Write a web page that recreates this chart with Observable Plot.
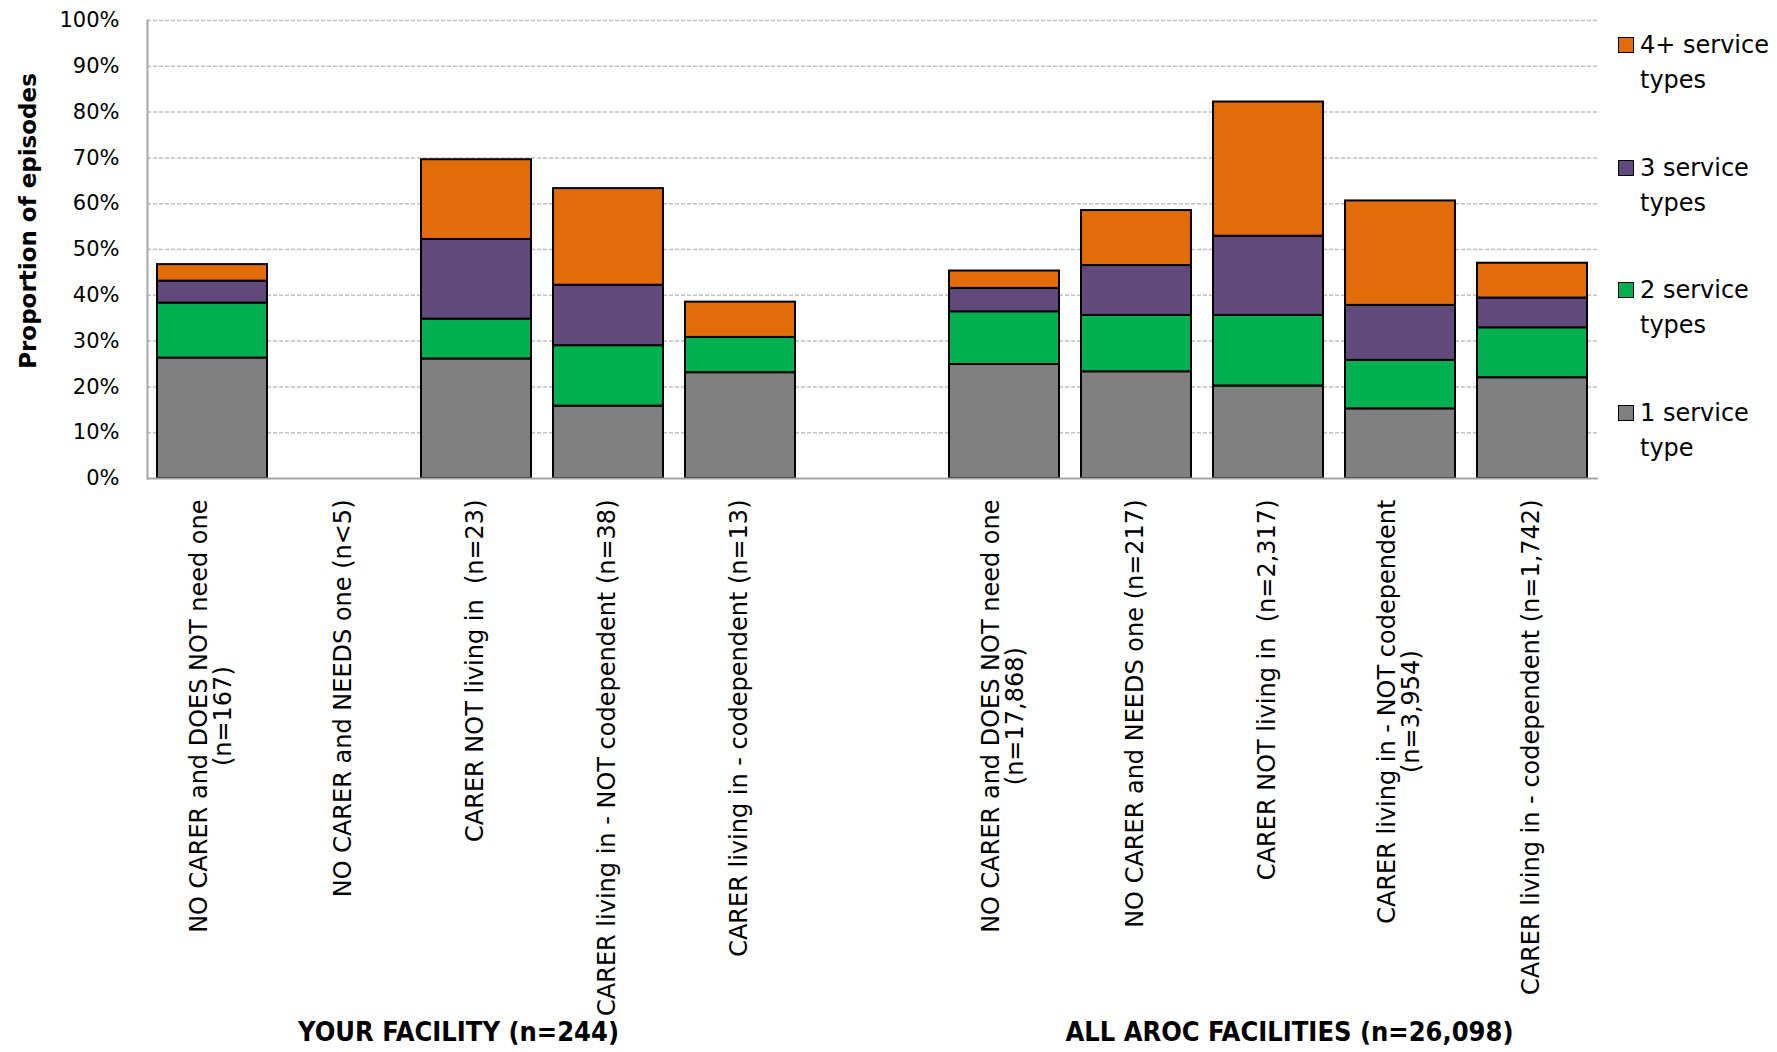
<!DOCTYPE html>
<html>
<head>
<meta charset="utf-8">
<script src="https://cdn.jsdelivr.net/npm/d3@7"></script>
<script src="https://cdn.jsdelivr.net/npm/@observablehq/plot@0.6"></script>
<style>
  html, body { margin: 0; padding: 0; background: #fff; }
  #wrap { position: relative; width: 1777px; height: 1052px; font-family: "DejaVu Sans", sans-serif; }
  #legend { position: absolute; left: 1618px; top: 28px; }
  .item { position: relative; height: 70px; margin-bottom: 52.5px; }
  .sw { position: absolute; left: 0; top: 9px; width: 14px; height: 14px; border: 1.5px solid #000; }
  .lt { position: absolute; left: 22px; top: 0; width: 140px; font-size: 24px; line-height: 35px; color: #000; }
  #ytitle { position: absolute; left: 28px; top: 221px; transform: translate(-50%, -50%) rotate(-90deg);
            white-space: nowrap; font-family: "DejaVu Sans", sans-serif; font-weight: bold; font-size: 23px; color: #000; }
</style>
</head>
<body>
<div id="wrap"><div id="chart"></div><div id="ytitle"></div><div id="legend"></div></div>
<script>
// ---- data ----
const facilityCats = [
  "NO CARER and DOES NOT need one\n(n=167)",
  "NO CARER and NEEDS one (n<5)",
  "CARER NOT living in  (n=23)",
  "CARER living in - NOT codependent (n=38)",
  "CARER living in - codependent (n=13)"
];
const arocCats = [
  "NO CARER and DOES NOT need one\n(n=17,868)",
  "NO CARER and NEEDS one (n=217)",
  "CARER NOT living in  (n=2,317)",
  "CARER living in - NOT codependent\n(n=3,954)",
  "CARER living in - codependent (n=1,742)"
];
const gapCat = " ";
const groupLabels = ["YOUR FACILITY (n=244)", "ALL AROC FACILITIES (n=26,098)"];
const yTitle = "Proportion of episodes";
const seriesNames = ["1 service type", "2 service types", "3 service types", "4+ service types"];
const seriesColors = ["#808080", "#00B050", "#604A7B", "#E36C0A"];
// values in %, order: facility 5 then all AROC 5
const oneService   = [26.3, 0, 26.1, 15.8, 23.1, 24.9, 23.3, 20.2, 15.2, 22.0];
const twoService   = [12.0, 0,  8.7, 13.2,  7.7, 11.5, 12.3, 15.4, 10.6, 10.9];
const threeService = [ 4.8, 0, 17.4, 13.2,  0.0,  5.1, 10.9, 17.3, 12.0,  6.5];
const fourService  = [ 3.6, 0, 17.4, 21.1,  7.7,  3.8, 12.0, 29.3, 22.8,  7.6];
const yTicks = [0, 10, 20, 30, 40, 50, 60, 70, 80, 90, 100];

// ---- build ----
const cats = [...facilityCats, ...arocCats];
const domain = [...facilityCats, gapCat, ...arocCats];
const seriesVals = [oneService, twoService, threeService, fourService];
const rows = [];
cats.forEach((c, i) => seriesNames.forEach((s, j) => {
  const v = seriesVals[j][i];
  if (v > 0) rows.push({cat: c, series: s, value: v});
}));

const labelFont = "DejaVu Sans";
const labelSize = 24;
const ctx = document.createElement("canvas").getContext("2d");
ctx.font = `${labelSize}px "${labelFont}"`;
const labelMarks = cats.map(c => {
  const w = Math.max(...c.split("\n").map(l => ctx.measureText(l).width));
  return Plot.text([c], {
    x: d => d, text: d => d, frameAnchor: "bottom", rotate: -90,
    textAnchor: "middle", lineAnchor: "middle", lineHeight: 1.0,
    dy: 21 + w / 2, dx: -1, fontSize: labelSize, fill: "#000"
  });
});

const groupFont = "Liberation Sans Narrow, DejaVu Sans Condensed, sans-serif";
const chart = Plot.plot({
  width: 1777, height: 1052,
  marginLeft: 147, marginRight: 179, marginTop: 20, marginBottom: 574,
  style: {fontFamily: labelFont, background: "#fff"},
  x: {domain, paddingInner: 0.165, paddingOuter: 0.064, axis: null},
  y: {domain: [0, 100], axis: null},
  color: {domain: seriesNames, range: seriesColors},
  marks: [
    Plot.gridY(yTicks.filter(t => t > 0), {stroke: "#c0c0c0", strokeOpacity: 1, strokeWidth: 1.5, strokeDasharray: "4,2"}),
    Plot.axisY(yTicks, {tickSize: 0, tickPadding: 28, tickFormat: d => d + "%", fontSize: 21, fill: "#000", label: null}),
    Plot.barY(rows, {x: "cat", y: "value", fill: "series", order: seriesNames, stroke: "#000", strokeWidth: 2}),
    Plot.ruleY([0], {stroke: "#a6a6a6", strokeWidth: 2}),
    Plot.frame({anchor: "left", stroke: "#a6a6a6", strokeWidth: 2}),
    ...labelMarks,
    Plot.text([groupLabels[0]], {x: () => facilityCats[2], text: d => d, frameAnchor: "bottom", dy: 562, dx: -18, fontSize: 27, fontWeight: "bold", fontFamily: groupFont, fill: "#000"}),
    Plot.text([groupLabels[1]], {x: () => arocCats[2], text: d => d, frameAnchor: "bottom", dy: 562, dx: 21, fontSize: 27, fontWeight: "bold", fontFamily: groupFont, fill: "#000"})
  ]
});
document.getElementById("chart").appendChild(chart);
document.getElementById("ytitle").textContent = yTitle;

const legend = document.getElementById("legend");
[...seriesNames].reverse().forEach(s => {
  const item = document.createElement("div");
  item.className = "item";
  const sw = document.createElement("div");
  sw.className = "sw";
  sw.style.background = seriesColors[seriesNames.indexOf(s)];
  const t = document.createElement("div");
  t.className = "lt";
  t.textContent = s;
  item.appendChild(sw); item.appendChild(t);
  legend.appendChild(item);
});
</script>
</body>
</html>
